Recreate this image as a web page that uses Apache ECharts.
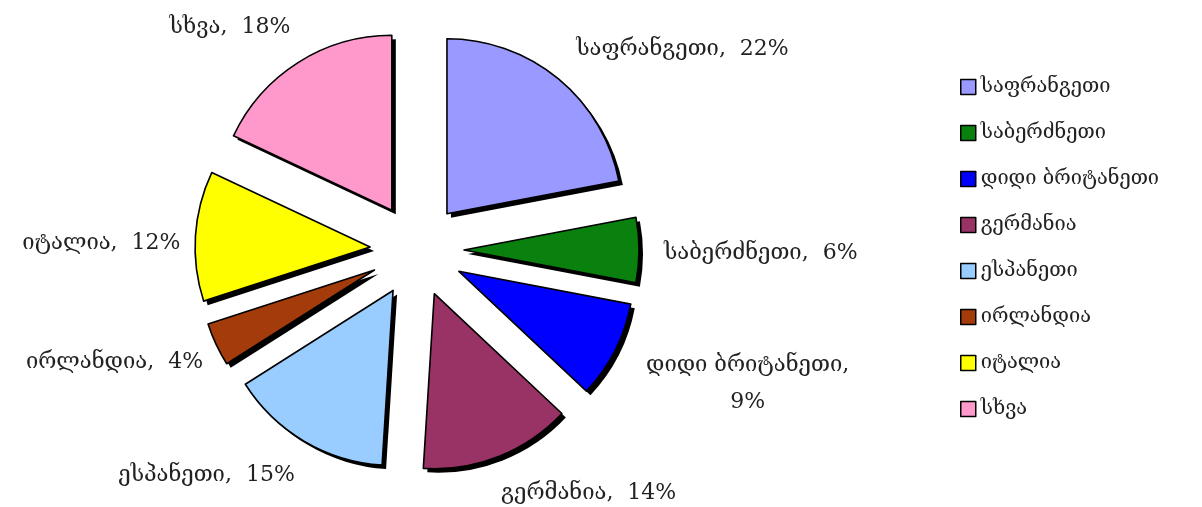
<!DOCTYPE html>
<html><head><meta charset="utf-8">
<script src="https://cdn.jsdelivr.net/npm/echarts@6/dist/echarts.min.js"></script>
<style>html,body{margin:0;padding:0;background:#fff}#c{width:1202px;height:507px}</style>
</head><body><div id="c"></div>
<script>
const countries = ['საფრანგეთი','საბერძნეთი','დიდი ბრიტანეთი','გერმანია','ესპანეთი','ირლანდია','იტალია','სხვა'];
const shares = [22, 6, 9, 14, 15, 4, 12, 18];
const colors = ['#9999FF','#0A800E','#0000FF','#993366','#99CCFF','#A33C0A','#FFFF00','#FF99CC'];
// label nudges (styling only)
const nudgeX = [0, 0, 110, -10, 6, 10, 10, 8];
const nudgeY = [-14, 3, 24, 18, 17, 9, 8, -18];

const chart = echarts.init(document.getElementById('c'), null, {renderer:'canvas'});
const font = '"DejaVu Serif", serif';
const pieBase = {
  type: 'pie',
  center: [417, 250],
  radius: [0, 175],
  startAngle: 90,
  clockwise: true,
  selectedMode: 'multiple',
  selectedOffset: 47,
  avoidLabelOverlap: false,
  emphasis: {disabled: true}
};
chart.setOption({
  animation: false,
  legend: {
    orient: 'vertical', left: 955, top: 72,
    itemWidth: 15, itemHeight: 15, itemGap: 26, icon: 'rect',
    itemStyle: {borderColor:'#000', borderWidth:1.5, shadowColor:'rgba(0,0,0,0)', shadowBlur:0, shadowOffsetX:0, shadowOffsetY:0},
    textStyle: {fontFamily: font, fontSize: 20, color:'#222', lineHeight: 20},
    data: countries
  },
  series: [
    Object.assign({}, pieBase, {
      name: 'fill',
      itemStyle: {borderWidth: 0, shadowColor:'#000', shadowBlur:0, shadowOffsetX:4, shadowOffsetY:4},
      label: {
        show: true, position: 'outside', formatter: '{b},  {c}%',
        fontFamily: font, fontSize: 22, color: '#222'
      },
      labelLine: {show: false, length: 20, length2: 0},
      labelLayout: function (p) {
        const i = p.dataIndex;
        const o = {dx: nudgeX[i], dy: nudgeY[i]};
        if (i === 2) o.align = 'center';
        return o;
      },
      data: countries.map((n, i) => {
        const d = {name: n, value: shares[i], selected: true, itemStyle: {color: colors[i]}};
        if (i === 2) d.label = {formatter: '{b},\n{c}%', lineHeight: 37};
        return d;
      })
    }),
    Object.assign({}, pieBase, {
      name: 'outline',
      silent: true,
      legendHoverLink: false,
      itemStyle: {color: 'rgba(0,0,0,0)', borderColor: '#000', borderWidth: 1.6},
      label: {show: false},
      labelLine: {show: false},
      data: countries.map((n, i) => ({name: n, value: shares[i], selected: true}))
    })
  ]
});
</script></body></html>
